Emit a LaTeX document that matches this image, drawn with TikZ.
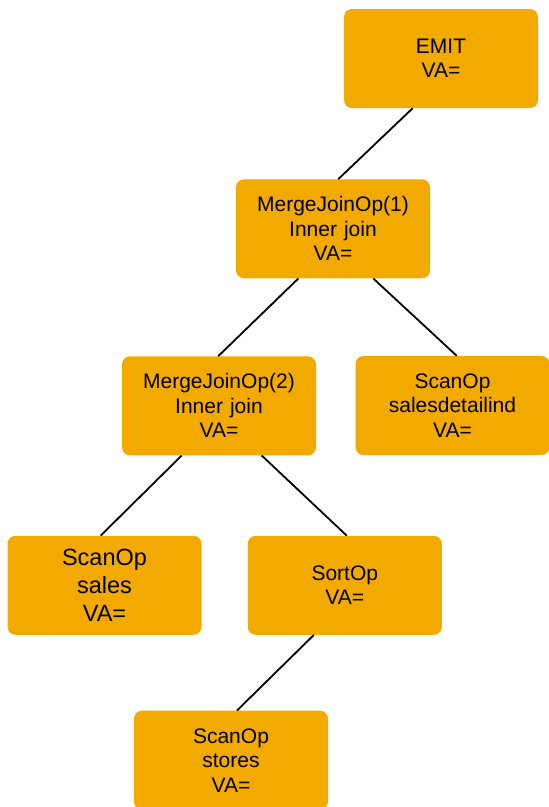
\documentclass[tikz,border=0pt]{standalone}
\usepackage{fontspec}
\setmainfont{Liberation Sans}
\usetikzlibrary{calc}
\definecolor{opfill}{RGB}{242,169,0}
\tikzset{
  opbox/.style={fill=opfill, rounded corners=8pt, text width=190pt, inner sep=2pt,
    minimum height=99pt, align=center, font=\fontsize{21}{24.5}\selectfont},
  bigbox/.style={opbox, font=\fontsize{23.5}{28}\selectfont},
  edge/.style={line width=1.8pt, black}
}
\begin{document}
\begin{tikzpicture}[x=1pt,y=-1pt]
  \useasboundingbox (0,0) rectangle (549,807);
  \clip (0,0) rectangle (549,807);
  % Operatoren
  \node[opbox] (emit) at (441,58.5) {EMIT\\VA=};
  \node[opbox] (mj1) at (333,228.8) {MergeJoinOp(1)\\Inner join\\VA=};
  \node[opbox] (mj2) at (219,405.8) {MergeJoinOp(2)\\Inner join\\VA=};
  \node[opbox] (sdi) at (452.5,405.5) {ScanOp\\salesdetailind\\VA=};
  \node[bigbox] (sales) at (104.5,585.3) {ScanOp\\sales\\VA=};
  \node[opbox] (sort) at (344.8,585.3) {SortOp\\VA=};
  \node[opbox] (stores) at (231,760.2) {ScanOp\\stores\\VA=};
  % Kanten
  \draw[edge] ($(emit.south)+(-28.3,0)$) -- ($(mj1.north)+(5.3,0)$);
  \draw[edge] ($(mj1.south)+(-34.7,0)$) -- ($(mj2.north)+(-0.7,0)$);
  \draw[edge] ($(mj1.south)+(40.3,0)$) -- ($(sdi.north)+(4.2,0)$);
  \draw[edge] ($(mj2.south)+(-37.3,0)$) -- ($(sales.north)+(-3.8,0)$);
  \draw[edge] ($(mj2.south)+(42.7,0)$) -- ($(sort.north)+(1.9,0)$);
  \draw[edge] ($(sort.south)+(-31,0)$) -- ($(stores.north)+(6,0)$);
\end{tikzpicture}
\end{document}
